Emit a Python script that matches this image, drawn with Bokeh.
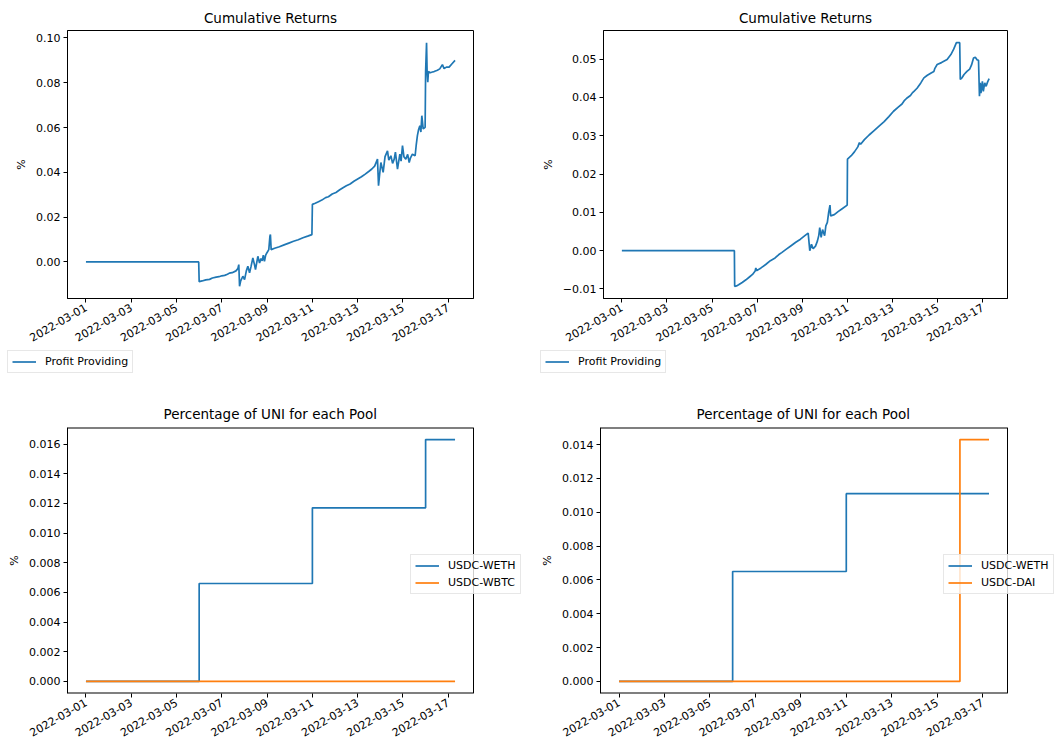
import math
import pandas as pd
from bokeh.plotting import figure
from bokeh.layouts import column, row
from bokeh.models import Range1d, FixedTicker, Legend, LegendItem, DatetimeTickFormatter, PrintfTickFormatter, Span
from bokeh.embed import file_html
from bokeh.resources import INLINE

START = "2022-03-01 00:00"

# ---- Cumulative returns, left pool (hours since start, value) ----
cum_left_hours = [0, 119.5, 120, 123, 127, 131, 134, 138, 141, 144, 147, 150, 152, 155, 159, 161, 162, 162.8,
                  164, 166.3, 168.1, 170, 171.6, 173.4, 175, 176.9, 178.5, 179.7, 182.2, 184, 185.5, 186.8,
                  188, 189.2, 190.5, 191.7, 193.8, 195, 195.5, 196.3, 200, 205, 210, 215, 220, 225, 230, 235,
                  239.5, 240, 243, 247, 250, 254, 257, 261, 265, 269, 272, 276, 280, 284, 288, 292, 296, 300,
                  303, 306, 309, 310.1, 311, 312.6, 315, 317, 319.6, 321, 323.2, 325, 326.7, 328, 330.2, 332.7,
                  334, 335.5, 337, 339, 341, 342.6, 344, 346, 348.9, 350, 351.3, 352.5, 353.9, 355, 356, 357.4,
                  359.5, 360, 361, 361.6, 362.3, 363, 365, 367.2, 369, 372.5, 375, 377.8, 379.6, 382, 384.9,
                  388, 391.2]
cum_left_vals = [0.0, 0.0, -0.0088, -0.0085, -0.0080, -0.0078, -0.0072, -0.0068, -0.0066, -0.0062, -0.0060,
                 -0.0055, -0.0050, -0.0048, -0.0040, -0.0030, -0.0012, -0.0109, -0.0085, -0.0064, -0.0079,
                 -0.0040, -0.0019, -0.0049, -0.0020, 0.0018, -0.0010, -0.0034, 0.0025, -0.0005, 0.0015, 0.0005,
                 0.0030, 0.0003, 0.0030, 0.0040, 0.0055, 0.0115, 0.0122, 0.0055, 0.0061, 0.0068, 0.0076, 0.0084,
                 0.0092, 0.0099, 0.0108, 0.0115, 0.0122, 0.0257, 0.0262, 0.0270, 0.0276, 0.0287, 0.0291, 0.0303,
                 0.0310, 0.0322, 0.0330, 0.0340, 0.0348, 0.0360, 0.0370, 0.0380, 0.0392, 0.0405, 0.0415, 0.0428,
                 0.0459, 0.0340, 0.0380, 0.0444, 0.0400, 0.0470, 0.0496, 0.0455, 0.0474, 0.0440, 0.0459, 0.0490,
                 0.0414, 0.0481, 0.0450, 0.0519, 0.0470, 0.0459, 0.0480, 0.0444, 0.0465, 0.0481, 0.0474, 0.0520,
                 0.0564, 0.0590, 0.0608, 0.0580, 0.0653, 0.0594, 0.0601, 0.0848, 0.0979, 0.0848, 0.0803, 0.0850,
                 0.0845, 0.0848, 0.0850, 0.0856, 0.0862, 0.0881, 0.0863, 0.0870, 0.0870, 0.0885, 0.0900]

# ---- Cumulative returns, right pool ----
cum_right_hours = [0, 119.7, 120, 122, 124.2, 128, 132, 136, 139, 141.8, 142.5, 143.5, 148, 153, 158, 163, 167,
                   170, 175, 180, 185, 190, 195, 198.2, 199.9, 201.7, 203.5, 206, 208, 209.5, 210.5, 212, 213.5,
                   215.7, 217, 218.6, 220, 221.4, 222.1, 226, 230, 234, 239.7, 240, 244, 247.4, 251, 252.7, 254,
                   258, 263, 268, 273, 279, 284, 289, 294, 298, 300.2, 303, 307, 309, 310.7, 314, 318, 321.3, 325,
                   329, 331.9, 333, 335.4, 340, 346, 350, 353, 355.9, 359.4, 360, 362, 364, 367.1, 370, 372, 374.1,
                   376, 378, 379.4, 380.4, 381.2, 382, 383.5, 384.5, 386, 387.5, 389, 390.7]
cum_right_vals = [0.0, 0.0, -0.0093, -0.0092, -0.0089, -0.0083, -0.0076, -0.0068, -0.0062, -0.0053, -0.0045,
                  -0.0052, -0.0045, -0.0036, -0.0026, -0.0019, -0.0010, -0.0005, 0.0004, 0.0013, 0.0022, 0.0030,
                  0.0040, 0.0046, 0.0000, 0.0017, 0.0005, 0.0012, 0.0025, 0.0040, 0.0060, 0.0035, 0.0055, 0.0039,
                  0.0065, 0.0074, 0.0100, 0.0119, 0.0091, 0.0094, 0.0102, 0.0109, 0.0119, 0.0239, 0.0248, 0.0258,
                  0.0271, 0.0282, 0.0278, 0.0290, 0.0302, 0.0313, 0.0324, 0.0337, 0.0350, 0.0364, 0.0375, 0.0383,
                  0.0391, 0.0398, 0.0405, 0.0412, 0.0416, 0.0424, 0.0438, 0.0451, 0.0458, 0.0464, 0.0468, 0.0476,
                  0.0486, 0.0491, 0.0499, 0.0512, 0.0526, 0.0543, 0.0543, 0.0447, 0.0452, 0.0460, 0.0468, 0.0474,
                  0.0485, 0.0503, 0.0505, 0.0498, 0.0497, 0.0403, 0.0438, 0.0411, 0.0442, 0.0416, 0.0438, 0.0429,
                  0.0440, 0.0449]

# ---- Percentage of UNI per pool (step changes) ----
pool_left_hours = [0, 120, 240, 360, 391.2]
usdc_weth_left = [0.0, 0.0066, 0.0117, 0.0163, 0.0163]
usdc_wbtc_left = [0.0, 0.0, 0.0, 0.0, 0.0]

pool_right_hours = [0, 120, 240, 360, 390.7]
usdc_weth_right = [0.0, 0.0065, 0.0111, 0.0111, 0.0111]
usdc_dai_right = [0.0, 0.0, 0.0, 0.0143, 0.0143]

# ---- Tick labels ----
x_tick_labels = ["2022-03-01", "2022-03-03", "2022-03-05", "2022-03-07", "2022-03-09",
                 "2022-03-11", "2022-03-13", "2022-03-15", "2022-03-17"]
y_ticks_tl = [0.00, 0.02, 0.04, 0.06, 0.08, 0.10]
y_labels_tl = ["0.00", "0.02", "0.04", "0.06", "0.08", "0.10"]
y_ticks_tr = [-0.01, 0.00, 0.01, 0.02, 0.03, 0.04, 0.05]
y_labels_tr = ["\u22120.01", "0.00", "0.01", "0.02", "0.03", "0.04", "0.05"]
y_ticks_bl = [0.000, 0.002, 0.004, 0.006, 0.008, 0.010, 0.012, 0.014, 0.016]
y_labels_bl = ["0.000", "0.002", "0.004", "0.006", "0.008", "0.010", "0.012", "0.014", "0.016"]
y_ticks_br = [0.000, 0.002, 0.004, 0.006, 0.008, 0.010, 0.012, 0.014]
y_labels_br = ["0.000", "0.002", "0.004", "0.006", "0.008", "0.010", "0.012", "0.014"]

BLUE = "#1f77b4"
ORANGE = "#ff7f0e"
FONT = "DejaVu Sans"

t0 = pd.Timestamp(START)


def to_ms(hours):
    return [(t0 + pd.Timedelta(hours=h)).value / 1e6 for h in hours]


x_ticks_ms = [pd.Timestamp(s).value / 1e6 for s in x_tick_labels]


def pad_lims(lo, hi):
    pad = 0.05 * (hi - lo)
    return lo - pad, hi + pad


def make_fig(title, width, height, left, right, top, bottom, xs, ys_all, yticks, ylabels, fmt,
             title_standoff, axes_w=None, title_offset=None):
    xs0, xs1 = pad_lims(min(xs), max(xs))
    ys0, ys1 = pad_lims(min(ys_all), max(ys_all))
    frame_w = width - left - right
    xr_end = xs1
    if axes_w is not None:
        # frame is wider than the drawn axes box (room for an overlapping legend)
        xr_end = xs0 + (xs1 - xs0) * frame_w / axes_w
    p = figure(width=width, height=height, x_axis_type="datetime",
               x_range=Range1d(xs0, xr_end), y_range=Range1d(ys0, ys1),
               output_backend="svg", toolbar_location=None,
               min_border_left=left, min_border_right=right,
               min_border_top=top, min_border_bottom=bottom)
    p.title.text = title
    p.title.text_font = FONT
    p.title.text_font_size = "13.5px"
    p.title.text_font_style = "normal"
    p.title.text_color = "black"
    p.title.standoff = title_standoff
    if title_offset is None:
        p.title.align = "center"
    else:
        p.title.align = "left"
        p.title.offset = title_offset
    p.grid.visible = False
    for ax in (p.xaxis[0], p.yaxis[0]):
        ax.axis_line_color = "black"
        ax.axis_line_width = 1
        ax.major_tick_line_color = "black"
        ax.major_tick_in = 0
        ax.major_tick_out = 4
        ax.minor_tick_line_color = None
        ax.major_label_text_font = FONT
        ax.major_label_text_font_size = "11px"
        ax.major_label_text_color = "black"
        ax.major_label_standoff = 3
    p.xaxis[0].major_label_standoff = 4
    p.xaxis[0].ticker = FixedTicker(ticks=x_ticks_ms)
    p.xaxis[0].formatter = DatetimeTickFormatter(milliseconds="%Y-%m-%d", seconds="%Y-%m-%d",
                                                 minsec="%Y-%m-%d", minutes="%Y-%m-%d",
                                                 hourmin="%Y-%m-%d", hours="%Y-%m-%d",
                                                 days="%Y-%m-%d", months="%Y-%m-%d", years="%Y-%m-%d")
    p.xaxis[0].major_label_orientation = math.pi / 6
    p.yaxis[0].ticker = FixedTicker(ticks=yticks)
    p.yaxis[0].formatter = PrintfTickFormatter(format=fmt)
    p.yaxis[0].major_label_overrides = {t: l for t, l in zip(yticks, ylabels)}
    p.yaxis[0].axis_label = "%"
    p.yaxis[0].axis_label_text_font = FONT
    p.yaxis[0].axis_label_text_font_size = "11px"
    p.yaxis[0].axis_label_text_font_style = "normal"
    p.yaxis[0].axis_label_text_color = "black"
    p.yaxis[0].axis_label_standoff = 5
    if axes_w is None:
        p.outline_line_color = "black"
        p.outline_line_width = 1
    else:
        p.outline_line_color = None
        p.xaxis[0].axis_line_color = None
        p.segment(x0=[xs0, xs0], y0=[ys0, ys1], x1=[xs1, xs1], y1=[ys0, ys1],
                  line_color="black", line_width=2)
        p.add_layout(Span(location=xs1, dimension="height", line_color="black", line_width=1))
    return p


def make_legend(items, loc):
    lg = Legend(items=items, location=loc)
    lg.label_text_font = FONT
    lg.label_text_font_size = "11px"
    lg.label_text_color = "black"
    lg.glyph_width = 24
    lg.glyph_height = 13
    lg.label_height = 13
    lg.label_standoff = 9
    lg.padding = 4
    lg.spacing = 4
    lg.margin = 0
    lg.border_line_color = "#d0d0d0"
    lg.border_line_width = 1
    lg.background_fill_alpha = 0.8
    return lg


def legend_fig(width, height, label, xs, ys, loc):
    # strip below the date labels that only holds the legend; the series itself lies out of view
    p = figure(width=width, height=height, x_range=Range1d(min(xs), max(xs)),
               y_range=Range1d(max(ys) + 1, max(ys) + 2),
               output_backend="svg", toolbar_location=None, min_border=0,
               x_axis_location=None, y_axis_location=None)
    p.outline_line_color = None
    p.grid.visible = False
    r = p.line(xs, ys, line_color=BLUE, line_width=1.7)
    p.add_layout(make_legend([LegendItem(label=label, renderers=[r])], loc))
    return p


W_L, W_R = 538, 516
H_TOP, H_LEG, H_BOT = 350, 47, 347

# Top-left
xs_l = to_ms(cum_left_hours)
p1 = make_fig("Cumulative Returns", W_L, H_TOP, 67, 65, 30, 52, xs_l, cum_left_vals,
              y_ticks_tl, y_labels_tl, "%.2f", 10)
p1.line(xs_l, cum_left_vals, line_color=BLUE, line_width=1.7)

# Top-right
xs_r = to_ms(cum_right_hours)
p2 = make_fig("Cumulative Returns", W_R, H_TOP, 62, 47, 30, 52, xs_r, cum_right_vals,
              y_ticks_tr, y_labels_tr, "%.2f", 10)
p2.line(xs_r, cum_right_vals, line_color=BLUE, line_width=1.7)

# Legends of the top row (below the date labels)
l1 = legend_fig(W_L, H_LEG, "Profit Providing", xs_l, cum_left_vals, (7, 24))
l2 = legend_fig(W_R, H_LEG, "Profit Providing", xs_r, cum_right_vals, (2, 24))

# Bottom-left
xs = to_ms(pool_left_hours)
p3 = make_fig("Percentage of UNI for each Pool", W_L, H_BOT, 67, 0, 28, 51, xs,
              usdc_weth_left + usdc_wbtc_left, y_ticks_bl, y_labels_bl, "%.3f", 12,
              axes_w=406, title_offset=96)
ra = p3.step(xs, usdc_weth_left, mode="after", line_color=BLUE, line_width=1.7)
rb = p3.step(xs, usdc_wbtc_left, mode="after", line_color=ORANGE, line_width=1.7)
p3.add_layout(make_legend([LegendItem(label="USDC-WETH", renderers=[ra]),
                           LegendItem(label="USDC-WBTC", renderers=[rb])], (343, 99)))

# Bottom-right
xs = to_ms(pool_right_hours)
p4 = make_fig("Percentage of UNI for each Pool", W_R, H_BOT, 62, 0, 28, 51, xs,
              usdc_weth_right + usdc_dai_right, y_ticks_br, y_labels_br, "%.3f", 12,
              axes_w=407, title_offset=96)
ra = p4.step(xs, usdc_weth_right, mode="after", line_color=BLUE, line_width=1.7)
rb = p4.step(xs, usdc_dai_right, mode="after", line_color=ORANGE, line_width=1.7)
p4.add_layout(make_legend([LegendItem(label="USDC-WETH", renderers=[ra]),
                           LegendItem(label="USDC-DAI", renderers=[rb])], (343, 99)))

layout = column(row(p1, p2), row(l1, l2), row(p3, p4))
open("out.html", "w").write(file_html(layout, INLINE))
